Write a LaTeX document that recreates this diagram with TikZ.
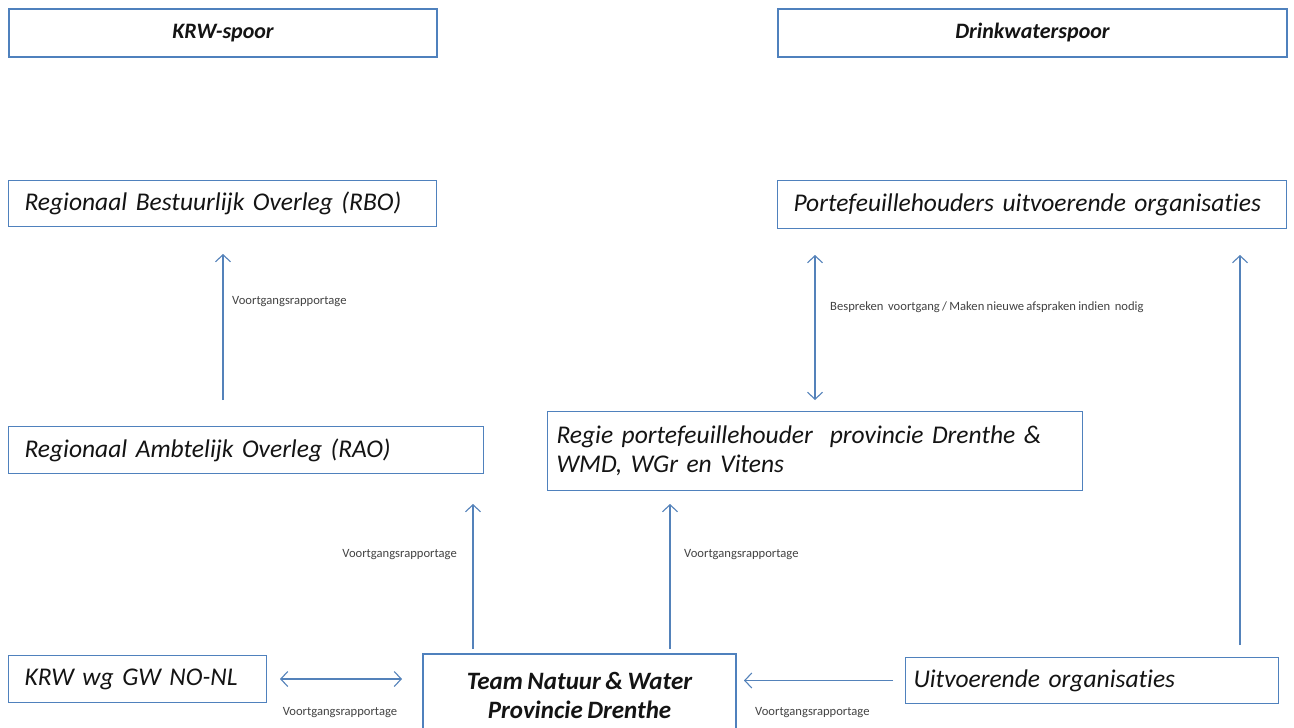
\documentclass[tikz,border=0pt]{standalone}
\usepackage{fontspec}
\setmainfont[WordSpace=0.8,Ligatures=NoCommon]{Carlito}
\usetikzlibrary{arrows.meta,calc}
\definecolor{boxblue}{RGB}{79,129,189}
\definecolor{arrblue}{RGB}{84,130,186}
\definecolor{txt}{RGB}{20,20,20}
\begin{document}
\begin{tikzpicture}[x=1pt,y=-1pt,
  thinbox/.style={draw=boxblue, line width=1pt, anchor=north west, inner ysep=0pt,
    text=txt, align=left, font=\fontsize{25.5}{29}\selectfont\itshape},
  headbox/.style={draw=boxblue, line width=2pt, anchor=north west, inner sep=0pt,
    text=txt, align=center, font=\fontsize{22}{26}\selectfont\bfseries\itshape},
  arr/.style={draw=arrblue, line width=1.1pt, -{Straight Barb[length=7pt,width=15pt,line width=1.1pt]}},
  darr/.style={draw=arrblue, line width=1.1pt, {Straight Barb[length=7pt,width=15pt,line width=1.1pt]}-{Straight Barb[length=7pt,width=15pt,line width=1.1pt]}},
  lbl/.style={text=txt!80, inner sep=0pt, font=\fontsize{12.6}{14}\selectfont}
]
\useasboundingbox (0,0) rectangle (1294,728);
\clip (0,0) rectangle (1294,728);
\fill[white] (0,0) rectangle (1294,728);

% headers
\node[headbox, minimum width=428pt, minimum height=48pt] (krwh) at (8,8) {KRW-spoor};
\node[headbox, minimum width=509pt, minimum height=48pt] (dwh) at (777,8) {Drinkwaterspoor};

% boxes
\node[thinbox, text width=396pt, inner xsep=16pt, minimum height=46pt] (rbo) at (8,180) {Regionaal Bestuurlijk Overleg (RBO)};
\node[thinbox, text width=477pt, inner xsep=16pt, minimum height=48pt] (port) at (777,180) {Portefeuillehouders uitvoerende organisaties};
\node[thinbox, text width=443pt, inner xsep=16pt, minimum height=47pt] (rao) at (8,426) {Regionaal Ambtelijk Overleg (RAO)};
\node[thinbox, text width=517pt, inner xsep=9pt, minimum height=79pt] (regie) at (547,411) {Regie portefeuillehouder\ \ provincie Drenthe \&\\WMD, WGr en Vitens};
\node[thinbox, text width=226pt, inner xsep=16pt, minimum height=47pt] (krwwg) at (8,655) {KRW wg GW NO-NL};
\node[thinbox, text width=357pt, inner xsep=8pt, minimum height=46pt] (uit) at (905,657) {Uitvoerende organisaties};
\node[headbox, minimum width=313pt, minimum height=82pt, font=\fontsize{25}{29}\selectfont\bfseries\itshape] (team) at (422,653) {Team Natuur \& Water\\Provincie Drenthe};

% x positions of vertical connectors
\coordinate (xa) at (223,0);
\coordinate (xb) at (473,0);
\coordinate (xc) at (670,0);
\coordinate (xd) at (815,0);
\coordinate (xe) at (1240,0);

% connectors
\draw[arr, shorten <=26pt, shorten >=27pt] (rao.north -| xa) -- (rbo.south -| xa);
\draw[arr, shorten <=4pt, shorten >=30pt] (team.north -| xb) -- (rao.south -| xb);
\draw[arr, shorten <=4pt, shorten >=13pt] (team.north -| xc) -- (regie.south -| xc);
\draw[darr, shorten <=11pt, shorten >=26pt] (regie.north -| xd) -- (port.south -| xd);
\draw[arr, shorten <=12pt, shorten >=26pt] (uit.north -| xe) -- (port.south -| xe);
\draw[darr, shorten <=13pt, shorten >=20pt] (krwwg.east) -- (team.west |- krwwg.east);
\draw[arr, shorten <=12pt, shorten >=7pt] (uit.west) -- (team.east |- uit.west);

% labels
\node[lbl, anchor=west] (l1) at (232,302) {Voortgangsrapportage};
\node[lbl, anchor=east] (l2) at (457,555) {Voortgangsrapportage};
\node[lbl, anchor=west] (l3) at (684,555) {Voortgangsrapportage};
\node[lbl, anchor=west] (l4) at (830,307) {Bespreken\ \ voortgang / Maken nieuwe afspraken indien\ \ nodig};
\node[lbl] (l5) at (340,713) {Voortgangsrapportage};
\node[lbl, anchor=west] (l6) at (755,713) {Voortgangsrapportage};
\end{tikzpicture}
\end{document}
